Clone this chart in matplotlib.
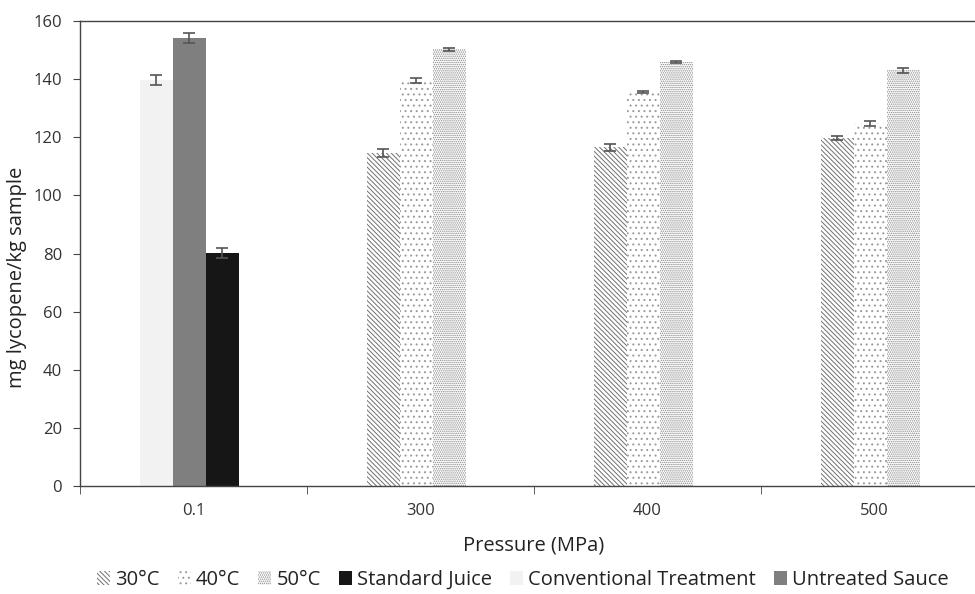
import matplotlib
matplotlib.use("Agg")
import matplotlib.pyplot as plt
import numpy as np
from matplotlib.patches import Patch

plt.rcParams['font.family'] = ['Open Sans', 'DejaVu Sans']

categories = ["0.1", "300", "400", "500"]

temp_series = ["30°C", "40°C", "50°C"]
temp_values = {
    "30°C": [114.7, 116.5, 119.8],
    "40°C": [139.5, 135.6, 124.8],
    "50°C": [150.2, 145.9, 143.0],
}
temp_errors = {
    "30°C": [1.4, 1.1, 0.8],
    "40°C": [0.8, 0.4, 0.8],
    "50°C": [0.6, 0.3, 0.8],
}

ref_series = ["Conventional Treatment", "Untreated Sauce", "Standard Juice"]
ref_values = [139.7, 154.1, 80.3]
ref_errors = [1.7, 1.6, 1.7]

fig = plt.figure(figsize=(9.75, 5.94), dpi=100)
ax = fig.add_axes([80/975, 1-486/594, 908/975, 465/594])

bw = 0.145
shift = -0.018
offsets = [(k - 1) * bw + shift for k in range(3)]

ref_colors = {"Conventional Treatment": "#f2f2f2", "Untreated Sauce": "#7f7f7f", "Standard Juice": "#161616"}
for k, name in enumerate(ref_series):
    ax.bar(0 + offsets[k], ref_values[k], width=bw, color=ref_colors[name], linewidth=0, zorder=2)
    ax.errorbar(0 + offsets[k], ref_values[k], yerr=ref_errors[k], fmt='none',
                ecolor='#555555', elinewidth=1.2, capsize=4, capthick=1.2, zorder=3)

hatches = {"30°C": "\\\\\\\\\\\\\\", "40°C": "...", "50°C": "........"}
hcolors = {"30°C": "#707070", "40°C": "#9a9a9a", "50°C": "#8a8a8a"}
xs = np.arange(1, 4)
plt.rcParams['hatch.linewidth'] = 0.7
for k, name in enumerate(temp_series):
    ax.bar(xs + offsets[k], temp_values[name], width=bw, color='white',
           edgecolor=hcolors[name], hatch=hatches[name], linewidth=0, zorder=2)
    ax.errorbar(xs + offsets[k], temp_values[name], yerr=temp_errors[name], fmt='none',
                ecolor='#555555', elinewidth=1.2, capsize=4, capthick=1.2, zorder=3)

ax.set_xlim(-0.5, 3.5)
ax.set_ylim(0, 160)
ax.set_yticks(np.arange(0, 161, 20))
ax.set_xticks(np.arange(4))
ax.set_xticklabels(categories)
ax.set_xticks(np.arange(-0.5, 3.5, 1), minor=True)
ax.tick_params(axis='x', which='major', length=0, pad=12, labelsize=12, colors='#333333')
ax.tick_params(axis='x', which='minor', length=6, direction='out', color='#444444')
ax.tick_params(axis='y', length=5, direction='out', labelsize=12, color='#444444', labelcolor='#333333', pad=8)
for s in ['left', 'bottom', 'top']:
    ax.spines[s].set_color('#444444')
    ax.spines[s].set_linewidth(1.0)
ax.spines['right'].set_visible(False)

ax.set_ylabel("mg lycopene/kg sample", fontsize=14.5, color='#222222')
ax.yaxis.set_label_coords(-0.058, 0.448)
ax.set_xlabel("Pressure (MPa)", fontsize=14.5, color='#222222', labelpad=12)

handles = [
    Patch(facecolor='white', edgecolor=hcolors["30°C"], hatch=hatches["30°C"], linewidth=0),
    Patch(facecolor='white', edgecolor=hcolors["40°C"], hatch=hatches["40°C"], linewidth=0),
    Patch(facecolor='white', edgecolor=hcolors["50°C"], hatch=hatches["50°C"], linewidth=0),
    Patch(facecolor=ref_colors["Standard Juice"], linewidth=0),
    Patch(facecolor=ref_colors["Conventional Treatment"], linewidth=0),
    Patch(facecolor=ref_colors["Untreated Sauce"], linewidth=0),
]
labels = ["30°C", "40°C", "50°C", "Standard Juice", "Conventional Treatment", "Untreated Sauce"]
fig.legend(handles, labels, loc='center', bbox_to_anchor=(523/975, 1-580/594), ncol=6, frameon=False,
           fontsize=14.5, handlelength=0.65, handleheight=0.7, handletextpad=0.25, columnspacing=0.9,
           labelcolor='#222222')

fig.savefig("out.png", dpi=100)
